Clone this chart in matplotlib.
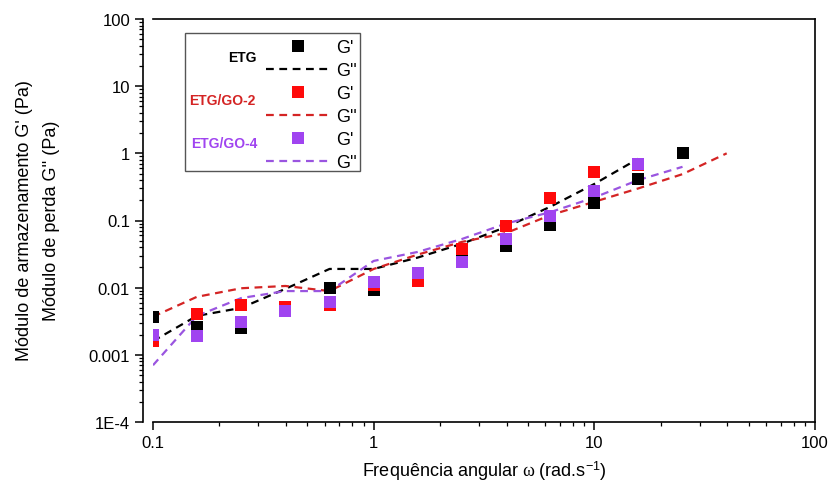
import numpy as np
import matplotlib
matplotlib.use("Agg")
import matplotlib.pyplot as plt
from matplotlib.lines import Line2D
from matplotlib.patches import Rectangle
from matplotlib.ticker import LogLocator, FuncFormatter, NullFormatter

plt.rcParams.update({"font.family": ["Liberation Sans", "DejaVu Sans"], "font.size": 12,
                     "mathtext.fontset": "custom", "mathtext.rm": "Liberation Sans",
                     "mathtext.it": "Liberation Serif", "mathtext.bf": "Liberation Sans:bold"})

# angular frequency (rad/s)
FREQ = [0.1, 0.158, 0.251, 0.398, 0.631, 1.0, 1.58, 2.51, 3.98, 6.31, 10.0, 15.8, 25.1, 39.8]

# ETG
ETG_G1 = [0.0037, 0.0026, 0.0025, 0.0046, 0.0099, 0.0093, 0.014, 0.029, 0.042, 0.086, 0.18, 0.42, 1.0]
ETG_G2 = [0.0016, 0.0038, 0.0050, 0.0096, 0.019, 0.019, 0.028, 0.045, 0.08, 0.16, 0.35, 0.83]
# ETG/GO-2
GO2_G1 = [0.0016, 0.0041, 0.0055, 0.0051, 0.0056, 0.011, 0.0126, 0.038, 0.083, 0.22, 0.53, 0.66]
GO2_G2 = [0.0037, 0.0073, 0.0098, 0.0106, 0.0089, 0.019, 0.031, 0.048, 0.065, 0.12, 0.19, 0.30, 0.49, 1.0]
# ETG/GO-4
GO4_G1 = [0.0020, 0.0019, 0.0031, 0.0045, 0.0062, 0.0123, 0.0166, 0.024, 0.053, 0.117, 0.275, 0.69]
GO4_G2 = [0.0007, 0.0038, 0.0070, 0.0089, 0.0089, 0.025, 0.034, 0.053, 0.09, 0.133, 0.22, 0.40, 0.63]

BLACK = "#000000"
RED_M, RED_L = "#FF0A0A", "#D42424"
PUR_M, PUR_L = "#A044F0", "#9A55E0"

fig = plt.figure(figsize=(8.33, 4.89), dpi=100)
ax = fig.add_axes([153 / 833, 1 - 423 / 489, 662 / 833, 403 / 489])

ms = 8
dash = dict(ls=(0, (3.5, 2.5)), lw=1.6)
series = [
    (ETG_G1, ETG_G2, BLACK, BLACK),
    (GO2_G1, GO2_G2, RED_M, RED_L),
    (GO4_G1, GO4_G2, PUR_M, PUR_L),
]
for g1, g2, cm, cl in series:
    ax.plot(FREQ[:len(g2)], g2, color=cl, **dash, zorder=2)
for g1, g2, cm, cl in series:
    ax.plot(FREQ[:len(g1)], g1, "s", color=cm, ms=ms, mew=0, ls="none", zorder=3)

ax.set_xscale("log")
ax.set_yscale("log")
ax.set_xlim(0.1, 100)
ax.set_ylim(1e-4, 100)

ax.spines["left"].set_position(("outward", 7))
for s in ax.spines.values():
    s.set_linewidth(1.2)
ax.tick_params(which="major", direction="out", length=6, width=1.1, labelsize=12, top=False, right=False)
ax.tick_params(which="minor", direction="out", length=3, width=0.9, top=False, right=False)
ax.xaxis.set_minor_locator(LogLocator(base=10, subs=np.arange(2, 10)))
ax.yaxis.set_minor_locator(LogLocator(base=10, subs=np.arange(2, 10)))
ax.xaxis.set_minor_formatter(NullFormatter())
ax.yaxis.set_minor_formatter(NullFormatter())


def yfmt(v, pos):
    if v < 5e-4:
        return "1E-4"
    return f"{v:g}"


ax.yaxis.set_major_formatter(FuncFormatter(yfmt))
ax.xaxis.set_major_formatter(FuncFormatter(lambda v, p: f"{v:g}"))

ax.set_xlabel(r"Frequência angular $\omega$ (rad.s$^{\mathregular{-1}}$)", fontsize=13, labelpad=6)
fig.text(25 / 833, 0.548, "Módulo de armazenamento G' (Pa)", rotation=90, ha="center", va="center", fontsize=13)
fig.text(52 / 833, 0.548, "Módulo de perda G'' (Pa)", rotation=90, ha="center", va="center", fontsize=13)

# legend
handles, labels = [], []
for g1, g2, cm, cl in series:
    handles.append(Line2D([], [], marker="s", color=cm, ms=ms, mew=0, ls="none"))
    labels.append("G'")
    handles.append(Line2D([], [], color=cl, **dash))
    labels.append("G''")
leg = ax.legend(handles, labels, loc="upper left", bbox_to_anchor=(0.17, 0.95), frameon=False,
                fontsize=13, handlelength=3.6, handletextpad=0.3, labelspacing=0.33,
                borderpad=0, borderaxespad=0)
ax.add_patch(Rectangle((0.048, 0.623), 0.265, 0.342, transform=ax.transAxes, fill=False,
                       ec="#555555", lw=1.0, zorder=1))
ax.text(0.135, 0.905, "ETG", transform=ax.transAxes, color=BLACK, fontsize=10, fontweight="bold",
        ha="center", va="center")
ax.text(0.105, 0.798, "ETG/GO-2", transform=ax.transAxes, color=RED_L, fontsize=10, fontweight="bold",
        ha="center", va="center")
ax.text(0.108, 0.692, "ETG/GO-4", transform=ax.transAxes, color=PUR_M, fontsize=10, fontweight="bold",
        ha="center", va="center")

fig.savefig("out.png", dpi=100)
